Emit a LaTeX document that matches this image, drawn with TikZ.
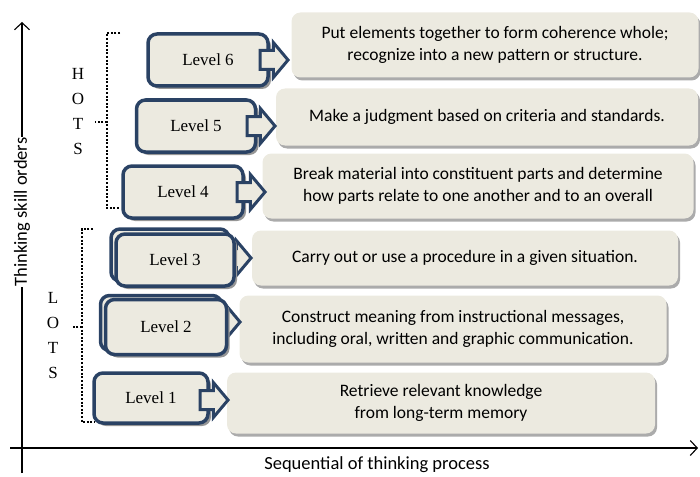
\documentclass[tikz,border=0pt]{standalone}
\usepackage{fontspec}
\setmainfont{Liberation Serif}
\newfontfamily\calibri{Carlito}
\usetikzlibrary{arrows.meta,shapes.arrows,shadows}

\definecolor{navy}{RGB}{42,66,100}
\definecolor{paper}{RGB}{236,234,224}
\definecolor{shade}{RGB}{150,150,150}

\tikzset{
  levelbox/.style={draw=navy, line width=3.5pt, fill=paper, rounded corners=9pt,
                   inner sep=0pt, font=\fontsize{17}{20}\selectfont,
                   drop shadow={shadow xshift=3pt, shadow yshift=-3pt,
                                fill=shade, opacity=1}},
  descbox/.style={fill=paper, rounded corners=9pt, align=center, inner sep=0pt,
                  font=\calibri\fontsize{17.5}{22}\selectfont,
                  drop shadow={shadow xshift=2pt, shadow yshift=-3pt,
                               fill=shade, opacity=.8}},
  pointer/.style={single arrow, draw=navy, line width=3pt, fill=paper,
                  single arrow head extend=8pt, single arrow tip angle=100,
                  minimum height=28pt, inner xsep=0pt, inner ysep=8pt,
                  anchor=tip},
  bracket/.style={line width=2pt, dash pattern=on 2pt off 1.6pt},
  letters/.style={align=center, font=\fontsize{17}{25}\selectfont},
  axisline/.style={line width=1.1pt, -{Straight Barb[length=7pt,width=15pt]}},
  axislabel/.style={font=\calibri\fontsize{18.5}{20}\selectfont, inner sep=1pt}
}

\begin{document}
\begin{tikzpicture}[x=1pt,y=-1pt]
  \useasboundingbox (0,0) rectangle (700,476);

  % what each level means
  \path (495,45)  node[descbox, minimum width=407pt, minimum height=65pt] (D6)
                  {Put elements together to form coherence whole;\\
                   recognize into a new pattern or structure.}
        (487,117) node[descbox, minimum width=422pt, minimum height=57pt] (D5)
                  {Make a judgment based on criteria and standards.}
        (478,186) node[descbox, minimum width=431pt, minimum height=65pt] (D4)
                  {Break material into constituent parts and determine\\
                   how parts relate to one another and to an overall}
        (465,258) node[descbox, minimum width=426pt, minimum height=55pt] (D3)
                  {Carry out or use a procedure in a given situation.}
        (453,329) node[descbox, minimum width=427pt, minimum height=67pt] (D2)
                  {Construct meaning from instructional messages,\\
                   including oral, written and graphic communication.}
        (441,403) node[descbox, minimum width=428pt, minimum height=61pt] (D1)
                  {Retrieve relevant knowledge\\ from long-term memory};

  % chevrons of the doubled boxes sit behind them
  \node[pointer] (P3) at (253,258) {};
  \node[pointer] (P2) at (242,322) {};

  % level boxes
  \path (208,60)  node[levelbox, minimum width=120pt, minimum height=52pt] (L6) {Level 6}
        (196,126) node[levelbox, minimum width=119pt, minimum height=52pt] (L5) {Level 5}
        (183,192) node[levelbox, minimum width=120pt, minimum height=52pt] (L4) {Level 4}
        (170,255) node[levelbox, minimum width=118pt, minimum height=52pt] (L3back) {}
        (175,260) node[levelbox, minimum width=118pt, minimum height=52pt] (L3) {Level 3}
        (161,323) node[levelbox, minimum width=121pt, minimum height=55pt] (L2back) {}
        (166,327) node[levelbox, minimum width=121pt, minimum height=55pt] (L2) {Level 2}
        (151,398) node[levelbox, minimum width=114pt, minimum height=50pt] (L1) {Level 1};

  \node[pointer] (P6) at (290,60)  {};
  \node[pointer] (P5) at (277,126) {};
  \node[pointer] (P4) at (267,192) {};
  \node[pointer] (P1) at (230,400) {};

  % HOTS and LOTS groups
  \node[letters] (hots) at (78,112)  {H\\O\\T\\S};
  \node[letters] (lots) at (53,336)  {L\\O\\T\\S};

  \coordinate (hT) at (120,33);  \coordinate (hM) at (107,122);
  \coordinate (hB) at (120,208); \coordinate (hL) at (95,122);
  \coordinate (lT) at (93,229);  \coordinate (lM) at (82,327);
  \coordinate (lB) at (95,422);  \coordinate (lL) at (72,327);

  \draw[bracket] (hT) -| (hM) |- (hB)  (hM) -- (hL);
  \draw[bracket] (lT) -| (lM) |- (lB)  (lM) -- (lL);

  % axes
  \coordinate (yfoot) at (22,473);  \coordinate (ytop) at (22,22);
  \coordinate (xfoot) at (10,448);  \coordinate (xtop) at (698,448);
  \draw[axisline] (yfoot) -- (ytop);
  \draw[axisline] (xfoot) -- (xtop);

  \node[axislabel, fill=white, rotate=90] (ylab) at (22,212) {Thinking skill orders};
  \node[axislabel] (xlab) at (377,465) {Sequential of thinking process};
\end{tikzpicture}
\end{document}
